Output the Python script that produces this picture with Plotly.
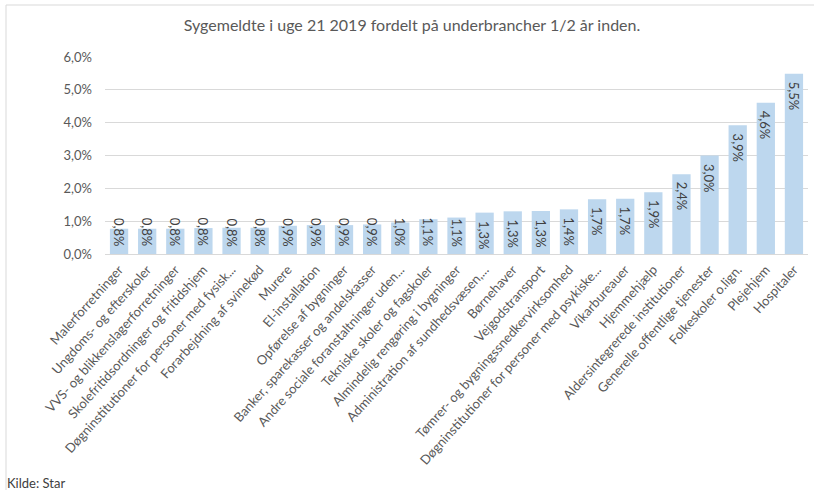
import plotly.graph_objects as go

categories = [
    "Malerforretninger", "Ungdoms- og efterskoler", "VVS- og blikkenslagerforretninger",
    "Skolefritidsordninger og fritidshjem", "Døgninstitutioner for personer med fysisk...",
    "Forarbejdning af svinekød", "Murere", "El-installation", "Opførelse af bygninger",
    "Banker, sparekasser og andelskasser", "Andre sociale foranstaltninger uden...",
    "Tekniske skoler og fagskoler", "Almindelig rengøring i bygninger",
    "Administration af sundhedsvæsen,...", "Børnehaver", "Vejgodstransport",
    "Tømrer- og bygningssnedkervirksomhed", "Døgninstitutioner for personer med psykiske...",
    "Vikarbureauer", "Hjemmehjælp", "Aldersintegrerede institutioner",
    "Generelle offentlige tjenester", "Folkeskoler o.lign.", "Plejehjem", "Hospitaler",
]
values_pct = [0.77, 0.77, 0.77, 0.79, 0.80, 0.80, 0.86, 0.88, 0.88, 0.90, 0.96, 1.06, 1.11,
              1.26, 1.30, 1.31, 1.36, 1.67, 1.68, 1.88, 2.43, 3.00, 3.92, 4.61, 5.49]
y_ticks = [0, 0.01, 0.02, 0.03, 0.04, 0.05, 0.06]
title_text = "Sygemeldte i uge 21 2019 fordelt på underbrancher 1/2 år inden."
source_text = "Kilde: Star"

values = [v / 100 for v in values_pct]
FONT = "Lato"
W, H = 814, 490
L, R, T, B = 105, 6, 57, 236
pw, ph = W - L - R, H - T - B

def px_x(px):
    return (px - L) / pw

def px_y(py):
    return (H - B - py) / ph

fig = go.Figure(go.Bar(
    x=categories, y=values, marker=dict(color="#BDD7EE", line=dict(width=0)),
    hoverinfo="skip",
))

label_min = 0.0125
annotations = []
for c, v, vp in zip(categories, values, values_pct):
    txt = f"{vp:.1f}".replace(".", ",") + "%"
    if v >= label_min:
        annotations.append(dict(x=c, y=v, xref="x", yref="y", text=txt, showarrow=False,
                                textangle=90, yanchor="top", yshift=-6,
                                font=dict(family=FONT, size=13, color="#404040")))
    else:
        annotations.append(dict(x=c, y=0, xref="x", yref="y", text=txt, showarrow=False,
                                textangle=90, yanchor="bottom", yshift=6,
                                font=dict(family=FONT, size=13, color="#404040")))

annotations.append(dict(x=px_x(5), y=px_y(483), xref="paper", yref="paper", text=source_text,
                        showarrow=False, xanchor="left", yanchor="middle",
                        font=dict(family=FONT, size=13, color="#404040")))

fig.update_layout(
    width=W, height=H, margin=dict(l=L, r=R, t=T, b=B, autoexpand=False),
    paper_bgcolor="white", plot_bgcolor="white",
    separators=",.",
    bargap=0.35, showlegend=False,
    font=dict(family=FONT, color="#595959"),
    title=dict(text=title_text, x=412 / W, xanchor="center", y=1 - 25 / H, yanchor="middle",
               xref="container", yref="container",
               font=dict(family=FONT, size=16, color="#595959")),
    annotations=annotations,
    shapes=[dict(type="rect", xref="paper", yref="paper", x0=px_x(6), x1=px_x(830),
                 y0=px_y(520), y1=px_y(5), line=dict(color="#D9D9D9", width=1), layer="below")],
)
fig.update_xaxes(tickangle=-48, tickfont=dict(family=FONT, size=13, color="#595959"),
                 showgrid=False, showline=True, linecolor="#D9D9D9", ticks="", ticklabelstandoff=2)
fig.update_yaxes(range=[0, 0.06], tickvals=y_ticks, tickformat=".1%",
                 tickfont=dict(family=FONT, size=13, color="#595959"),
                 showgrid=True, gridcolor="#D9D9D9", gridwidth=1, zeroline=False,
                 showline=False, ticks="", ticklabelstandoff=12)

fig.write_html("out.html", config={"displayModeBar": False},
               post_script="document.body.style.margin='0';")
